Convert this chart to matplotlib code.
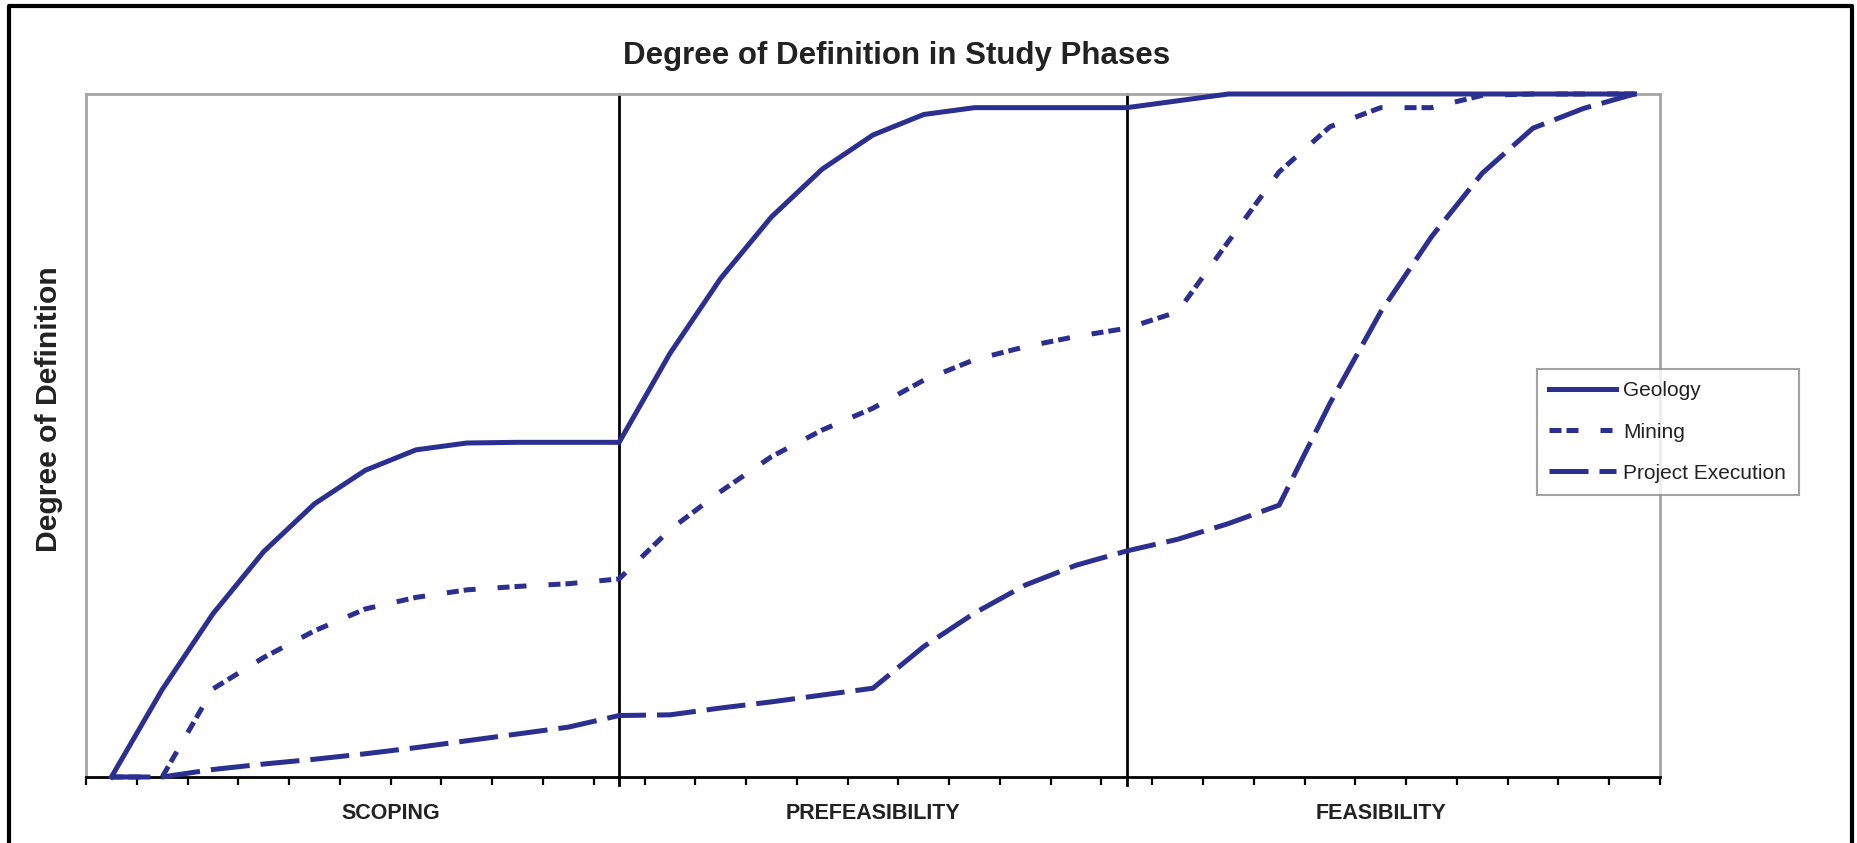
import matplotlib
matplotlib.use("Agg")
import matplotlib.pyplot as plt
from matplotlib.lines import Line2D

# categories along the study timeline (31 steps, phase borders at 10 and 20)
steps = list(range(31))
phase_names = ["SCOPING", "PREFEASIBILITY", "FEASIBILITY"]
phase_label_pos = [5.5, 15, 25]
phase_borders = [10, 20]

geology = [0, 12.8, 23.9, 33.0, 40.0, 44.9, 47.9, 48.9, 49.0, 49.0, 49.0,
           62.0, 73.0, 82.0, 89.0, 94.0, 97.0, 98.0, 98.0, 98.0, 98.0,
           99.0, 100, 100, 100, 100, 100, 100, 100, 100, 100]
mining = [0, 0, 12.9, 17.5, 21.4, 24.6, 26.3, 27.4, 27.9, 28.3, 29.0,
          36.2, 41.8, 46.9, 50.8, 54.0, 58.1, 61.1, 63.0, 64.5, 65.7,
          68.1, 78.4, 88.6, 95.2, 98.0, 98.0, 99.8, 100, 100, 100]
project_exec = [0, 0, 1.1, 1.9, 2.6, 3.4, 4.3, 5.3, 6.3, 7.3, 9.0,
                9.1, 10.1, 11.0, 12.0, 13.0, 19.1, 24.0, 28.1, 31.0, 33.1,
                34.8, 37.1, 39.8, 54.7, 68.1, 79.1, 88.4, 95.0, 97.9, 100]

blue = "#2b2f8f"
plt.rcParams["font.family"] = ["Liberation Sans", "DejaVu Sans"]

fig = plt.figure(figsize=(18.58, 8.43), dpi=100)
ax = fig.add_axes([0.0463, 0.0783, 0.8471, 0.8102])

for b in phase_borders:
    ax.plot([b, b], [-1.2, 100], color="black", lw=2, clip_on=False, zorder=1)

ax.plot(steps, geology, color=blue, lw=3.6, label="Geology", clip_on=False,
        solid_joinstyle="miter", zorder=3)
ax.plot(steps, mining, color=blue, lw=3.6, label="Mining", clip_on=False,
        dashes=(2.4, 1.0, 2.4, 4.4), zorder=3)
ax.plot(steps, project_exec, color=blue, lw=3.6, label="Project Execution",
        clip_on=False, dashes=(7.8, 2.2), zorder=3)

ax.set_xlim(-0.5, 30.5)
ax.set_ylim(0, 100)
ax.set_xticks([s - 0.5 for s in steps] + [30.5])
ax.set_xticklabels([])
ax.set_yticks([])
ax.tick_params(axis="x", direction="out", length=6, width=1.6, color="black")

for side in ["left", "top", "right"]:
    ax.spines[side].set_color("#a6a6a6")
    ax.spines[side].set_linewidth(2)
ax.spines["bottom"].set_color("black")
ax.spines["bottom"].set_linewidth(2)

for name, xpos in zip(phase_names, phase_label_pos):
    ax.text(xpos, -0.053, name, transform=ax.get_xaxis_transform(),
            ha="center", va="center", fontsize=15.5, fontweight="bold",
            color="#222222")

fig.text(0.4828, 0.9336, "Degree of Definition in Study Phases", ha="center",
         va="center", fontsize=22.5, fontweight="bold", color="#222222")
fig.text(0.0265, 0.515, "Degree of Definition", rotation=90, ha="center",
         va="center", fontsize=21.7, fontweight="bold", color="#222222")

leg = ax.legend(loc="upper left", bbox_to_anchor=(0.8272, 0.5623),
                bbox_transform=fig.transFigure, fontsize=15, frameon=True,
                fancybox=False, handlelength=3.2, handletextpad=0.35,
                labelspacing=1.06, borderpad=0.6, borderaxespad=0)
leg.get_frame().set_edgecolor("#8c8c8c")
leg.get_frame().set_linewidth(1.5)
for t in leg.get_texts():
    t.set_color("#222222")

# outer frame of the figure (open at the bottom)
fx = [9 / 1858, 9 / 1858, 1852 / 1858, 1852 / 1858]
fy = [0, 1 - 6 / 843, 1 - 6 / 843, 0]
fig.add_artist(Line2D(fx, fy, transform=fig.transFigure, color="black", lw=3))

fig.savefig("out.png", dpi=100)
